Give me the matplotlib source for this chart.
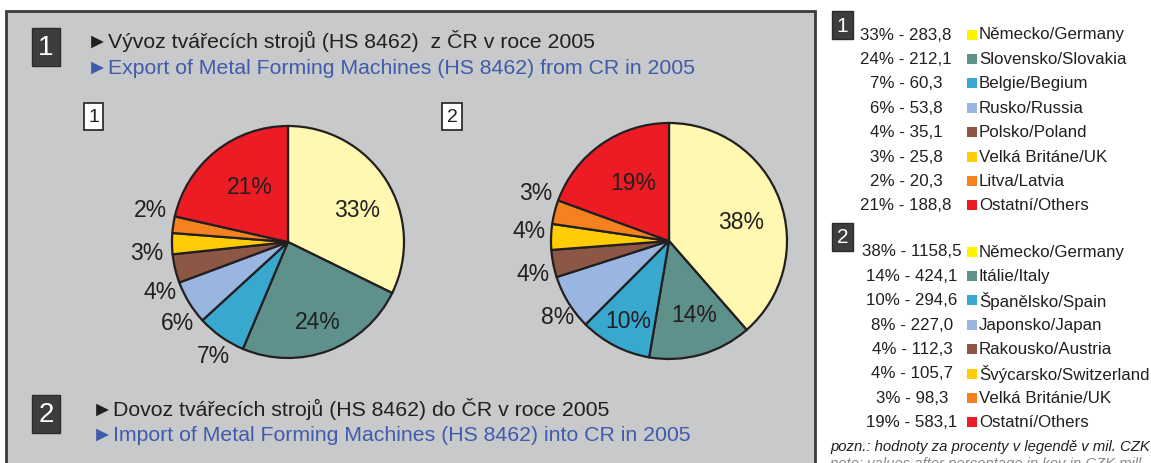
import matplotlib
matplotlib.use('Agg')
import matplotlib.pyplot as plt
from matplotlib.patches import Rectangle
import numpy as np

plt.rcParams['font.family'] = ['Liberation Sans', 'DejaVu Sans']

# data
names_export = ['Německo/Germany', 'Slovensko/Slovakia', 'Belgie/Begium', 'Rusko/Russia',
                'Polsko/Poland', 'Velká Británe/UK', 'Litva/Latvia', 'Ostatní/Others']
values_export = [283.8, 212.1, 60.3, 53.8, 35.1, 25.8, 20.3, 188.8]
pct_export = [33, 24, 7, 6, 4, 3, 2, 21]

names_import = ['Německo/Germany', 'Itálie/Italy', 'Španělsko/Spain', 'Japonsko/Japan',
                'Rakousko/Austria', 'Švýcarsko/Switzerland', 'Velká Británie/UK', 'Ostatní/Others']
values_import = [1158.5, 424.1, 294.6, 227.0, 112.3, 105.7, 98.3, 583.1]
pct_import = [38, 14, 10, 8, 4, 4, 3, 19]

pie_colors = ['#fff8b0', '#5f918c', '#39a8cf', '#99b6e0', '#8d5745', '#ffcc05', '#f5821f', '#ed1c24']
key_colors = ['#fff200', '#5f918c', '#39a8cf', '#99b6e0', '#8d5745', '#ffcc05', '#f5821f', '#ed1c24']

# label placement: distance (x radius) and angle shift from wedge middle
lab_dist_export = [0.66, 0.73, 1.17, 1.18, 1.18, 1.22, 1.22, 0.58]
lab_shift_export = [-6.8, 0, 2, 4.7, 8.1, 3.4, -4.7, -4.3]
lab_dist_import = [0.63, 0.66, 0.76, 1.14, 1.18, 1.19, 1.2, 0.58]
lab_shift_import = [-5.5, 3.2, 0, 2.6, 2.3, -2.1, -5.9, -3.8]

W, H = 1151, 464
fig = plt.figure(figsize=(W / 100, H / 100), dpi=100)
ax = fig.add_axes([0, 0, 1, 1])

def Y(py):
    return H - py

dark = '#231f20'
blue = '#3f5bab'
boxgray = '#3d3d3d'

# gray panel
ax.add_patch(Rectangle((6, Y(470)), 809, 470 - 12, facecolor='#c8c9cb',
                       edgecolor='#3a3a3a', linewidth=2, zorder=0))

def dark_box(x0, y0, w, h, label, size):
    ax.add_patch(Rectangle((x0, Y(y0 + h)), w, h, facecolor=boxgray,
                           edgecolor='#2a2a2a', linewidth=1, zorder=2))
    ax.text(x0 + w / 2, Y(y0 + h / 2), label, color='white', fontsize=size,
            ha='center', va='center', zorder=3)

def white_box(x0, y0, w, h, label):
    ax.add_patch(Rectangle((x0, Y(y0 + h)), w, h, facecolor='white',
                           edgecolor=dark, linewidth=1.2, zorder=2))
    ax.text(x0 + w / 2, Y(y0 + h / 2), label, color=dark, fontsize=14,
            ha='center', va='center', zorder=3)

dark_box(32, 29, 28, 38, '1', 20)
ax.text(87, Y(41), '►Vývoz tvářecích strojů (HS 8462)  z ČR v roce 2005', color=dark,
        fontsize=15.3, ha='left', va='center')
ax.text(87, Y(68), '►Export of Metal Forming Machines (HS 8462) from CR in 2005', color=blue,
        fontsize=15.3, ha='left', va='center')

dark_box(32, 396, 28, 38, '2', 20)
ax.text(92, Y(409), '►Dovoz tvářecích strojů (HS 8462) do ČR v roce 2005', color=dark,
        fontsize=15.3, ha='left', va='center')
ax.text(92, Y(436), '►Import of Metal Forming Machines (HS 8462) into CR in 2005', color=blue,
        fontsize=15.3, ha='left', va='center')

white_box(84, 104, 19, 27, '1')
white_box(442, 104, 20, 27, '2')

def draw_pie(values, pcts, cx, cy, r, dists, shifts):
    wedges, _ = ax.pie(values, colors=pie_colors, startangle=90, counterclock=False,
                       center=(cx, Y(cy)), radius=r,
                       wedgeprops=dict(edgecolor=dark, linewidth=1.6))
    for w, p, d, s in zip(wedges, pcts, dists, shifts):
        ang = np.deg2rad((w.theta1 + w.theta2) / 2 + s)
        ax.text(cx + d * r * np.cos(ang), Y(cy) + d * r * np.sin(ang), f'{p}%',
                color=dark, fontsize=16.5, ha='center', va='center', zorder=5)

draw_pie(values_export, pct_export, 288, 243, 116, lab_dist_export, lab_shift_export)
draw_pie(values_import, pct_import, 669, 242, 118, lab_dist_import, lab_shift_import)

# key on the right
def draw_key(names, values, pcts, top, cx_text):
    for i, (n, v, p) in enumerate(zip(names, values, pcts)):
        yy = top + i * 24.4
        ax.text(cx_text, Y(yy), f'{p}% - {v:.1f}'.replace('.', ','), color=dark,
                fontsize=12.2, ha='center', va='center')
        ax.add_patch(Rectangle((967, Y(yy + 5.5)), 10, 10, facecolor=key_colors[i],
                               edgecolor='none'))
        ax.text(979, Y(yy), n, color=dark, fontsize=12.2, ha='left', va='center')

dark_box(832, 12, 21, 28, '1', 15)
draw_key(names_export, values_export, pct_export, 35, 906)
dark_box(832, 224, 21, 28, '2', 15)
draw_key(names_import, values_import, pct_import, 252, 912)

ax.text(830, Y(447), 'pozn.: hodnoty za procenty v legendě v mil. CZK', color=dark,
        fontsize=10.7, style='italic', ha='left', va='center')
ax.text(830, Y(464), 'note: values after percentage in key in CZK mill.', color='#8a8a8a',
        fontsize=10.7, style='italic', ha='left', va='center')

ax.set_xlim(0, W)
ax.set_ylim(0, H)
ax.set_aspect('auto')
ax.axis('off')

fig.savefig('out.png', dpi=100, facecolor='white')
